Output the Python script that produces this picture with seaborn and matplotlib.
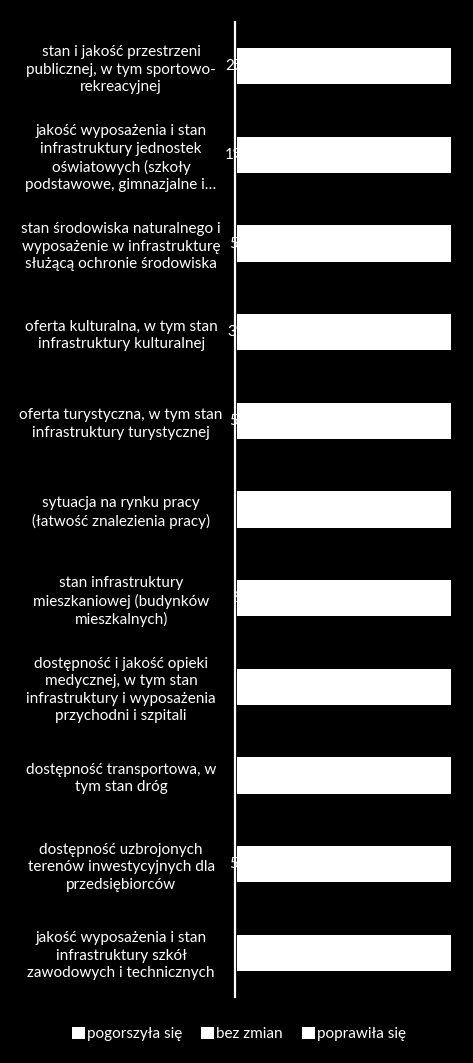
import matplotlib
matplotlib.use("Agg")
import matplotlib.pyplot as plt
from matplotlib.patches import Patch
import seaborn as sns
import pandas as pd

categories = [
    "stan i jakość przestrzeni\npublicznej, w tym sportowo-\nrekreacyjnej",
    "jakość wyposażenia i stan\ninfrastruktury jednostek\noświatowych (szkoły\npodstawowe, gimnazjalne i…",
    "stan środowiska naturalnego i\nwyposażenie w infrastrukturę\nsłużącą ochronie środowiska",
    "oferta kulturalna, w tym stan\ninfrastruktury kulturalnej",
    "oferta turystyczna, w tym stan\ninfrastruktury turystycznej",
    "sytuacja na rynku pracy\n(łatwość znalezienia pracy)",
    "stan infrastruktury\nmieszkaniowej (budynków\nmieszkalnych)",
    "dostępność i jakość opieki\nmedycznej, w tym stan\ninfrastruktury i wyposażenia\nprzychodni i szpitali",
    "dostępność transportowa, w\ntym stan dróg",
    "dostępność uzbrojonych\nterenów inwestycyjnych dla\nprzedsiębiorców",
    "jakość wyposażenia i stan\ninfrastruktury szkół\nzawodowych i technicznych",
]

series_names = ["pogorszyła się", "bez zmian", "poprawiła się"]
pogorszyla = [2, 1, 5, 3, 5, 18, 9, 17, 19, 5, 17]
bez_zmian = [30, 38, 53, 49, 55, 53, 56, 47, 40, 67, 53]
poprawila = [68, 61, 42, 48, 40, 29, 35, 36, 41, 28, 30]

df = pd.DataFrame({"kat": categories, "pogorszyła się": pogorszyla,
                   "bez zmian": bez_zmian, "poprawiła się": poprawila})
df["c1"] = df["pogorszyła się"]
df["c2"] = df["c1"] + df["bez zmian"]
df["c3"] = df["c2"] + df["poprawiła się"]

sns.set_theme(style="dark")
plt.rcParams["font.family"] = ["Lato", "DejaVu Sans"]

fig = plt.figure(figsize=(4.73, 10.63), dpi=100, facecolor="black")
ax = fig.add_axes([235 / 473, 1 - 997 / 1063, (451 - 235) / 473, 975 / 1063])
ax.set_facecolor("black")

# stacked bars: draw cumulative totals from the back
for col in ["c3", "c2", "c1"]:
    sns.barplot(data=df, x=col, y="kat", orient="h", color="white",
                width=0.41, saturation=1, ax=ax, edgecolor="none")

# data labels for the first segment (white on white, only the overhang shows)
for i, v in enumerate(pogorszyla):
    ax.annotate(f"{v}%", xy=(v / 2, i), xytext=(-2, 0), textcoords="offset points",
                color="white", ha="center", va="center", fontsize=11)

ax.set_xlim(-0.9, 100)
ax.set_ylim(10.5, -0.5)
ax.set_xlabel("")
ax.set_ylabel("")
ax.set_xticks([])
for s in ["top", "right", "bottom"]:
    ax.spines[s].set_visible(False)
ax.spines["left"].set_color("white")
ax.spines["left"].set_linewidth(1.6)
ax.grid(False)

ax.tick_params(axis="y", length=0, pad=82, colors="white", labelsize=11)
for lab in ax.get_yticklabels():
    lab.set_horizontalalignment("center")
    lab.set_multialignment("center")
    lab.set_linespacing(1.32)

handles = [Patch(facecolor="white", edgecolor="none") for _ in series_names]
fig.legend(handles, series_names, loc="center", bbox_to_anchor=(239 / 473, 1 - 1034 / 1063),
           ncol=3, frameon=False, fontsize=11, labelcolor="white",
           handlelength=0.85, handleheight=0.85, handletextpad=0.15, columnspacing=1.25)

fig.savefig("out.png", dpi=100, facecolor="black")
